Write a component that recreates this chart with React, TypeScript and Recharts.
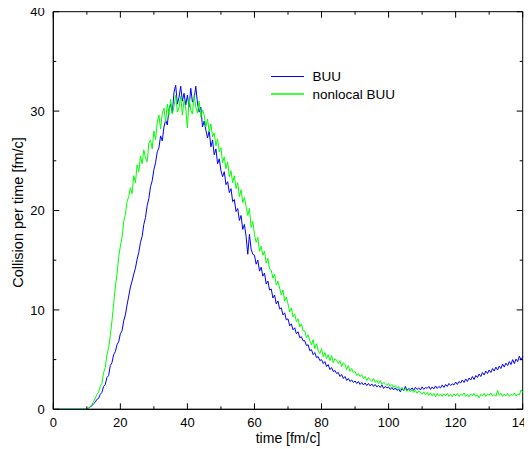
import React from 'react';
import { LineChart, Line, XAxis, YAxis, Legend, ReferenceArea } from 'recharts';

// sampling grid of the simulation output [fm/c]
const T_START = 0;
const T_STEP = 0.5;

// collision rate, BUU (one row = 5 fm/c)
const buu: number[] = [
  0, 0, 0, 0, 0, 0, 0, 0, 0, 0,
  0, 0, 0, 0, 0, 0, 0, 0, 0, 0,
  0.0, 0.1, 0.25, 0.35, 0.55, 0.7, 1.0, 1.1, 1.5, 1.7,
  2.3, 2.5, 3.2, 3.4, 4.4, 4.7, 5.5, 5.8, 6.5, 6.8,
  7.6, 7.9, 8.9, 9.5, 10.5, 11.4, 12.3, 12.9, 13.6, 14.2,
  15.1, 15.8, 16.8, 17.4, 18.6, 19.3, 20.5, 21.2, 22.4, 23.0,
  24.1, 24.8, 25.9, 26.3, 27.5, 27.0, 28.4, 29.1, 28.6, 30.2,
  30.7, 29.8, 31.9, 32.6, 30.7, 31.4, 32.5, 31.0, 31.8, 30.6,
  31.6, 30.4, 32.3, 30.9, 31.2, 32.5, 30.8, 29.9, 30.4, 28.4,
  29.0, 28.1, 27.3, 28.0, 26.4, 27.1, 25.6, 26.2, 24.7, 25.2,
  24.0, 23.4, 23.9, 22.6, 22.9, 21.8, 22.2, 20.9, 21.1, 19.9,
  20.2, 19.0, 19.5, 18.1, 18.6, 17.4, 15.6, 17.6, 16.1, 15.6,
  15.5, 14.6, 15.0, 13.9, 14.3, 13.4, 13.7, 12.6, 12.9, 12.0,
  12.1, 11.2, 11.5, 10.6, 10.9, 10.1, 10.2, 9.5, 9.7, 9.0,
  9.1, 8.4, 8.6, 8.0, 8.2, 7.6, 7.8, 7.2, 7.3, 6.9,
  6.9, 6.4, 6.5, 5.9, 6.0, 5.5, 5.7, 5.2, 5.3, 4.9,
  5.0, 4.6, 4.8, 4.3, 4.5, 4.0, 4.2, 3.8, 3.9, 3.6,
  3.7, 3.3, 3.5, 3.1, 3.3, 2.9, 3.1, 2.8, 2.95, 2.7,
  2.85, 2.6, 2.8, 2.5, 2.7, 2.45, 2.65, 2.4, 2.6, 2.35,
  2.55, 2.3, 2.5, 2.25, 2.4, 2.2, 2.45, 2.1, 2.3, 2.15,
  2.25, 2.0, 2.2, 1.95, 2.15, 1.9, 2.05, 1.75, 2.1, 1.85,
  2.3, 1.9, 2.1, 1.95, 2.15, 1.9, 2.2, 2.0, 2.15, 1.95,
  2.25, 2.0, 2.2, 2.1, 2.3, 2.0, 2.25, 2.05, 2.35, 2.1,
  2.3, 2.15, 2.45, 2.2, 2.5, 2.3, 2.6, 2.4, 2.55, 2.45,
  2.75, 2.5, 2.8, 2.65, 2.95, 2.7, 3.05, 2.8, 3.15, 2.95,
  3.3, 3.0, 3.4, 3.2, 3.55, 3.3, 3.7, 3.45, 3.85, 3.6,
  3.95, 3.7, 4.1, 3.85, 4.25, 3.95, 4.35, 4.1, 4.55, 4.25,
  4.65, 4.4, 4.8, 4.5, 5.0, 4.6, 5.05, 4.8, 5.35, 4.95,
  5.3,
];

// collision rate, nonlocal BUU (one row = 5 fm/c)
const nonlocalBuu: number[] = [
  0, 0, 0, 0, 0, 0, 0, 0, 0, 0,
  0, 0, 0, 0, 0, 0, 0, 0, 0, 0.02,
  0.0, 0.1, 0.3, 0.45, 0.8, 1.1, 1.5, 1.7, 2.3, 2.6,
  3.7, 4.2, 5.5, 6.2, 7.4, 8.9, 10.6, 12.3, 13.6, 15.3,
  16.4, 17.3, 18.9, 19.6, 20.9, 21.4, 22.3, 21.7, 23.5, 22.8,
  24.6, 23.9, 25.5, 24.7, 26.1, 25.3, 24.9, 26.8, 27.1, 26.2,
  28.0, 27.1, 28.9, 29.6, 28.2, 29.8, 30.3, 28.9, 30.7, 29.6,
  31.2, 29.7, 30.5, 31.6, 29.9, 30.4, 31.5, 29.6, 31.1, 30.3,
  28.3, 31.3, 30.1, 29.7, 31.6, 30.4, 29.8, 31.0, 29.4, 30.1,
  29.6, 28.4, 29.2, 27.9, 28.7, 27.4, 27.8, 26.5, 27.2, 25.9,
  26.3, 24.8, 25.4, 24.2, 24.9, 23.4, 24.0, 22.8, 23.5, 22.2,
  22.8, 21.4, 22.1, 20.8, 21.3, 20.4, 19.5, 20.2, 18.3, 18.9,
  17.6, 16.8, 17.3, 15.9, 16.4, 15.5, 15.9, 14.7, 15.2, 14.1,
  14.0, 13.2, 13.6, 12.5, 12.9, 12.2, 11.5, 12.0, 10.9, 11.3,
  10.6, 9.8, 10.2, 9.3, 9.6, 8.8, 9.1, 8.3, 8.6, 7.9,
  7.9, 7.2, 7.5, 6.9, 6.5, 7.0, 6.1, 6.6, 5.9, 5.6,
  6.1, 5.3, 5.7, 5.1, 5.5, 4.9, 5.4, 4.7, 5.1, 4.9,
  4.6, 4.9, 4.3, 4.7, 4.5, 4.0, 4.4, 3.8, 4.1, 3.7,
  3.8, 3.4, 3.6, 3.3, 3.5, 3.1, 3.3, 2.9, 3.2, 3.0,
  2.8, 3.1, 2.7, 2.9, 2.6, 2.9, 2.5, 2.7, 2.6, 2.4,
  2.6, 2.3, 2.5, 2.2, 2.4, 2.1, 2.3, 2.0, 2.2, 1.9,
  2.1, 1.8, 2.0, 1.75, 1.95, 1.7, 1.9, 1.6, 1.85, 1.7,
  1.5, 1.75, 1.45, 1.7, 1.4, 1.65, 1.35, 1.6, 1.25, 1.6,
  1.35, 1.55, 1.3, 1.55, 1.35, 1.6, 1.3, 1.5, 1.25, 1.55,
  1.35, 1.6, 1.3, 1.5, 1.4, 1.65, 1.3, 1.5, 1.25, 1.55,
  1.35, 1.6, 1.3, 1.45, 1.15, 1.5, 1.35, 1.6, 1.3, 1.55,
  1.4, 1.65, 1.35, 1.5, 1.3, 1.9, 1.4, 1.6, 1.3, 1.55,
  1.35, 1.6, 1.3, 1.5, 1.4, 1.65, 1.35, 1.55, 1.45, 1.95,
  1.7,
];

const xTicks = [0, 10, 20, 30, 40, 50, 60, 70, 80, 90, 100, 110, 120, 130, 140];
const yTicks = [0, 5, 10, 15, 20, 25, 30, 35, 40];

const data = buu.map((v, i) => ({
  t: T_START + i * T_STEP,
  buu: v,
  nonlocal: nonlocalBuu[i],
}));

// layout
const W = 532;
const H = 449;
const M_TOP = 11.7;
const M_RIGHT = 9.3;
const Y_AXIS_W = 53.3;
const X_AXIS_H = 39.7;
const PLOT_TOP = M_TOP;
const PLOT_RIGHT = W - M_RIGHT;

const FONT = '"Liberation Sans", Arial, Helvetica, sans-serif';
const BLUE = '#0000ff';
const GREEN = '#00ff00';

const BottomTick = (props: any) => {
  const { x, y, payload } = props;
  const v = payload.value;
  const major = v % 20 === 0;
  const len = major ? 6 : 3;
  return (
    <g>
      <line x1={x} y1={y} x2={x} y2={y - len} stroke="#000" strokeWidth={1} />
      <line x1={x} y1={PLOT_TOP} x2={x} y2={PLOT_TOP + len} stroke="#000" strokeWidth={1} />
      {major && (
        <text x={x} y={y + 17.5} textAnchor="middle" fontSize={13} fontFamily={FONT} fill="#000">
          {v}
        </text>
      )}
    </g>
  );
};

const LeftTick = (props: any) => {
  const { x, y, payload } = props;
  const v = payload.value;
  const major = v % 10 === 0;
  const len = major ? 6 : 3;
  return (
    <g>
      <line x1={x} y1={y} x2={x + len} y2={y} stroke="#000" strokeWidth={1} />
      <line x1={PLOT_RIGHT} y1={y} x2={PLOT_RIGHT - len} y2={y} stroke="#000" strokeWidth={1} />
      {major && (
        <text x={x - 8.5} y={y + 4.6} textAnchor="end" fontSize={13} fontFamily={FONT} fill="#000">
          {v}
        </text>
      )}
    </g>
  );
};

const XLabel = (props: any) => {
  const vb = props.viewBox || {};
  const cx = vb.x + vb.width / 2;
  return (
    <text x={cx} y={vb.y + 34} textAnchor="middle" fontSize={14} fontFamily={FONT} fill="#000">
      time [fm/c]
    </text>
  );
};

const YLabel = (props: any) => {
  const vb = props.viewBox || {};
  const cx = 17.5;
  const cy = vb.y + vb.height / 2 + 2;
  return (
    <text
      x={cx}
      y={cy}
      textAnchor="middle"
      dominantBaseline="central"
      fontSize={14.5}
      fontFamily={FONT}
      fill="#000"
      transform={`rotate(-90, ${cx}, ${cy})`}
    >
      Collision per time [fm/c]
    </text>
  );
};

const LegendBox = () => (
  <svg width={140} height={40} style={{ display: 'block', overflow: 'visible' }}>
    <line x1={0} y1={8.5} x2={33} y2={8.5} stroke={BLUE} strokeWidth={1} />
    <text x={41.5} y={13.3} fontSize={13.5} fontFamily={FONT} fill="#000">BUU</text>
    <line x1={0} y1={26} x2={33} y2={26} stroke={GREEN} strokeWidth={1.3} />
    <text x={41.5} y={30.8} fontSize={13.5} fontFamily={FONT} fill="#000">nonlocal BUU</text>
  </svg>
);

export default function App() {
  return (
    <div style={{ width: W, height: H, margin: '-8px 0 0 -8px' }}>
      <LineChart
        width={W}
        height={H}
        data={data}
        margin={{ top: M_TOP, right: M_RIGHT, bottom: 0, left: 0 }}
      >
        <XAxis
          xAxisId="bottom"
          dataKey="t"
          type="number"
          domain={[0, 140]}
          ticks={xTicks}
          interval={0}
          height={X_AXIS_H}
          tickSize={0}
          tickMargin={0}
          tickLine={false}
          axisLine={{ stroke: '#000' }}
          tick={BottomTick}
          label={<XLabel />}
        />
        <YAxis
          yAxisId="left"
          type="number"
          domain={[0, 40]}
          ticks={yTicks}
          interval={0}
          width={Y_AXIS_W}
          tickSize={0}
          tickMargin={0}
          tickLine={false}
          axisLine={{ stroke: '#000' }}
          tick={LeftTick}
          label={<YLabel />}
        />
        <ReferenceArea
          xAxisId="bottom"
          yAxisId="left"
          x1={0}
          x2={140}
          y1={0}
          y2={40}
          fill="none"
          fillOpacity={0}
          stroke="#000"
          strokeWidth={1}
          ifOverflow="visible"
        />
        <Legend
          layout="horizontal"
          verticalAlign="middle"
          align="center"
          content={<LegendBox />}
          wrapperStyle={{ left: 271, top: 67.8, width: 140, height: 40 }}
        />
        <Line
          xAxisId="bottom"
          yAxisId="left"
          type="linear"
          dataKey="buu"
          name="BUU"
          stroke={BLUE}
          strokeWidth={1}
          dot={false}
          isAnimationActive={false}
        />
        <Line
          xAxisId="bottom"
          yAxisId="left"
          type="linear"
          dataKey="nonlocal"
          name="nonlocal BUU"
          stroke={GREEN}
          strokeWidth={1}
          dot={false}
          isAnimationActive={false}
        />
      </LineChart>
    </div>
  );
}
